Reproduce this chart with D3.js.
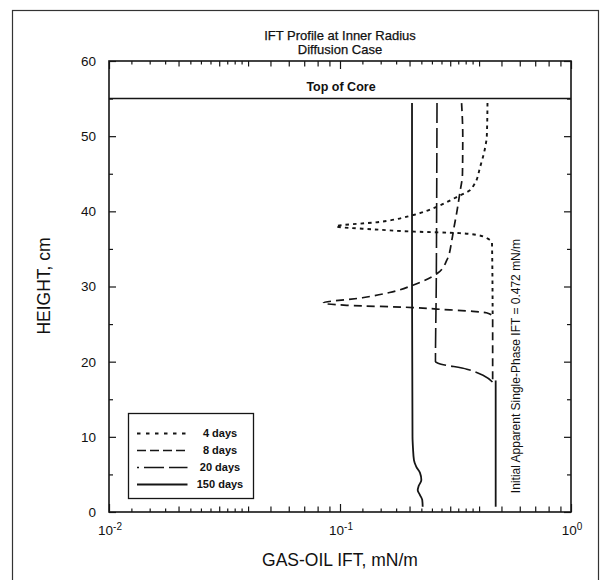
<!DOCTYPE html>
<html>
<head>
<meta charset="utf-8">
<script src="https://cdn.jsdelivr.net/npm/d3@7"></script>
<style>
  html, body { margin: 0; padding: 0; background: #fff; }
  svg { display: block; }
  text { font-family: "Liberation Sans", Arial, Helvetica, sans-serif; fill: #111; }
</style>
</head>
<body>
<svg id="chart" width="608" height="580"></svg>
<script>
// ---------------- data ----------------
const seriesNames = ["4 days", "8 days", "20 days", "150 days"];

const height4 = [54.4, 50, 48.5, 46, 43.5, 42.8, 41.9, 40.6, 39.5, 38.6, 38.0, 37.6, 37.3, 37.1, 36.8, 36.3, 35.8, 26.0];
const ift4    = [0.435, 0.432, 0.425, 0.405, 0.38, 0.365, 0.32, 0.262, 0.207, 0.149, 0.096, 0.14, 0.21, 0.33, 0.40, 0.44, 0.455, 0.458];

const height8 = [54.4, 50, 45, 42.4, 39.8, 37.5, 36.2, 33.5, 31.8, 30.2, 29.2, 28.5, 27.8, 27.5, 27.2, 27.0, 26.7, 26.5, 26.0, 17.3];
const ift8    = [0.336, 0.34, 0.339, 0.33, 0.32, 0.31, 0.305, 0.29, 0.265, 0.208, 0.164, 0.125, 0.0846, 0.107, 0.207, 0.262, 0.376, 0.43, 0.458, 0.458];

const height20 = [54.4, 40, 30, 20.0, 19.8, 19.0, 18.2, 17.2];
const ift20    = [0.263, 0.262, 0.261, 0.259, 0.266, 0.354, 0.416, 0.46];

const height150 = [54.4, 30, 10, 8.5, 6.9, 6.0, 5.2, 4.25, 3.45, 2.9, 2.26, 1.6, 0.7];
const ift150    = [0.205, 0.205, 0.206, 0.207, 0.209, 0.214, 0.222, 0.225, 0.219, 0.217, 0.222, 0.227, 0.228];

const initialHeight = [0.7, 17.5];
const initialIFT = 0.472;
const topOfCore = 55;

const yTickValues = [0, 10, 20, 30, 40, 50, 60];
const yMinorValues = [5, 15, 25, 35, 45, 55];
const xDecades = [0.01, 0.1, 1];
const xDecadeLabels = [["10", "-2"], ["10", "-1"], ["10", "0"]];
const xIntMultiples = [2, 3, 4, 5, 6, 7, 8, 9];
const xQuarterMultiples = [1.25, 1.5, 1.75, 2.25, 2.5, 2.75, 3.25, 3.5, 3.75];

const title1 = "IFT Profile at Inner Radius";
const title2 = "Diffusion Case";
const xTitle = "GAS-OIL IFT, mN/m";
const yTitle = "HEIGHT, cm";
const coreLabel = "Top of Core";
const initialLabel = "Initial Apparent Single-Phase IFT = 0.472 mN/m";

// ---------------- layout ----------------
const L = 109, R = 571, T = 61, B = 512;
const svg = d3.select("#chart");
const x = d3.scaleLog().domain([0.01, 1]).range([L, R]);
const y = d3.scaleLinear().domain([0, 60]).range([B, T]);

const ink = "#151515";

// outer border
svg.append("rect").attr("x", 12.5).attr("y", 10.5).attr("width", 586).attr("height", 600)
  .attr("fill", "none").attr("stroke", "#333").attr("stroke-width", 1.2);

// titles
svg.append("text").attr("x", 340).attr("y", 39.5).attr("text-anchor", "middle")
  .style("font-size", "13px").style("stroke", "#111").style("stroke-width", 0.25).text(title1);
svg.append("text").attr("x", 340).attr("y", 54).attr("text-anchor", "middle")
  .style("font-size", "13px").style("stroke", "#111").style("stroke-width", 0.25).text(title2);

// ticks
const minorX = [];
[0.01, 0.1].forEach(d => xIntMultiples.forEach(m => minorX.push(d * m)));
const quarterX = [];
[0.01, 0.1].forEach(d => xQuarterMultiples.forEach(m => quarterX.push(d * m)));

function styleAxis(g) {
  g.select(".domain").remove();
  g.selectAll(".tick line").attr("stroke", ink).attr("stroke-width", 1.2);
}
function addX(axisFn, ty, vals, len) {
  svg.append("g").attr("transform", `translate(0,${ty})`)
    .call(axisFn(x).tickValues(vals).tickSize(-len).tickFormat(""))
    .call(styleAxis);
}
[[d3.axisBottom, B], [d3.axisTop, T]].forEach(([fn, ty]) => {
  addX(fn, ty, xDecades, 8);
  addX(fn, ty, minorX, 5.5);
  addX(fn, ty, quarterX, 3.5);
});
function addY(axisFn, tx, vals, len) {
  svg.append("g").attr("transform", `translate(${tx},0)`)
    .call(axisFn(y).tickValues(vals).tickSize(-len).tickFormat(""))
    .call(styleAxis);
}
[[d3.axisLeft, L], [d3.axisRight, R]].forEach(([fn, tx]) => {
  addY(fn, tx, yTickValues, 7);
  addY(fn, tx, yMinorValues, 4);
});

// y tick labels
svg.append("g").selectAll("text").data(yTickValues).join("text")
  .attr("x", 96).attr("y", d => y(d)).attr("dy", "0.36em")
  .attr("text-anchor", "end").style("font-size", "13.5px").text(d => d);

// x tick labels with superscripts
const xl = svg.append("g").selectAll("text").data(xDecades).join("text")
  .attr("x", d => x(d) + 1).attr("y", 535).attr("text-anchor", "middle")
  .style("font-size", "13.5px");
xl.append("tspan").text((d, i) => xDecadeLabels[i][0]);
xl.append("tspan").attr("dy", "-5").style("font-size", "10px").text((d, i) => xDecadeLabels[i][1]);

// axis titles
svg.append("text").attr("x", 340).attr("y", 566).attr("text-anchor", "middle")
  .style("font-size", "17.5px").text(xTitle);
svg.append("text").attr("transform", "translate(50,286) rotate(-90)")
  .attr("text-anchor", "middle").style("font-size", "17.5px").text(yTitle);

// top of core
svg.append("line").attr("x1", L).attr("x2", R).attr("y1", y(topOfCore)).attr("y2", y(topOfCore))
  .attr("stroke", ink).attr("stroke-width", 1.5);
svg.append("text").attr("x", 341).attr("y", 91).attr("text-anchor", "middle")
  .style("font-size", "12.5px").style("font-weight", "bold").text(coreLabel);

// curves
const styles = [
  { dash: "3.5,4", w: 1.9 },
  { dash: "8,5", w: 1.7 },
  { dash: "20,5", w: 1.6 },
  { dash: null, w: 1.8 }
];
const seriesData = [
  height4.map((h, i) => [ift4[i], h]),
  height8.map((h, i) => [ift8[i], h]),
  height20.map((h, i) => [ift20[i], h]),
  height150.map((h, i) => [ift150[i], h])
];
const line = d3.line().x(d => x(d[0])).y(d => y(d[1])).curve(d3.curveMonotoneY);
seriesData.forEach((s, i) => {
  svg.append("path").datum(s).attr("d", line)
    .attr("fill", "none").attr("stroke", ink).attr("stroke-width", styles[i].w)
    .attr("stroke-dasharray", styles[i].dash);
});

// initial IFT line
svg.append("line").attr("x1", x(initialIFT)).attr("x2", x(initialIFT))
  .attr("y1", y(initialHeight[0])).attr("y2", y(initialHeight[1]))
  .attr("stroke", ink).attr("stroke-width", 1.8);
svg.append("text").attr("transform", `translate(520,366) rotate(-90)`)
  .attr("text-anchor", "middle").style("font-size", "12px").text(initialLabel);

// frame
svg.append("rect").attr("x", L).attr("y", T).attr("width", R - L).attr("height", B - T)
  .attr("fill", "none").attr("stroke", ink).attr("stroke-width", 1.6);

// legend
const lg = svg.append("g");
lg.append("rect").attr("x", 128.5).attr("y", 413.5).attr("width", 125).attr("height", 85)
  .attr("fill", "#fff").attr("stroke", ink).attr("stroke-width", 1.3);
const rowY = [433.5, 450.5, 467.5, 484.5];
seriesNames.forEach((n, i) => {
  lg.append("line").attr("x1", 137).attr("x2", 187.5).attr("y1", rowY[i]).attr("y2", rowY[i])
    .attr("stroke", ink).attr("stroke-width", styles[i].w)
    .attr("stroke-dasharray", i === 0 ? "3.5,5.5" : i === 1 ? "9,4" : styles[i].dash)
    .attr("stroke-dashoffset", i === 2 ? 18 : 0);
  lg.append("text").attr("x", 220).attr("y", rowY[i]).attr("dy", "0.36em")
    .attr("text-anchor", "middle").style("font-size", "11px").style("font-weight", "bold").text(n);
});
</script>
</body>
</html>
